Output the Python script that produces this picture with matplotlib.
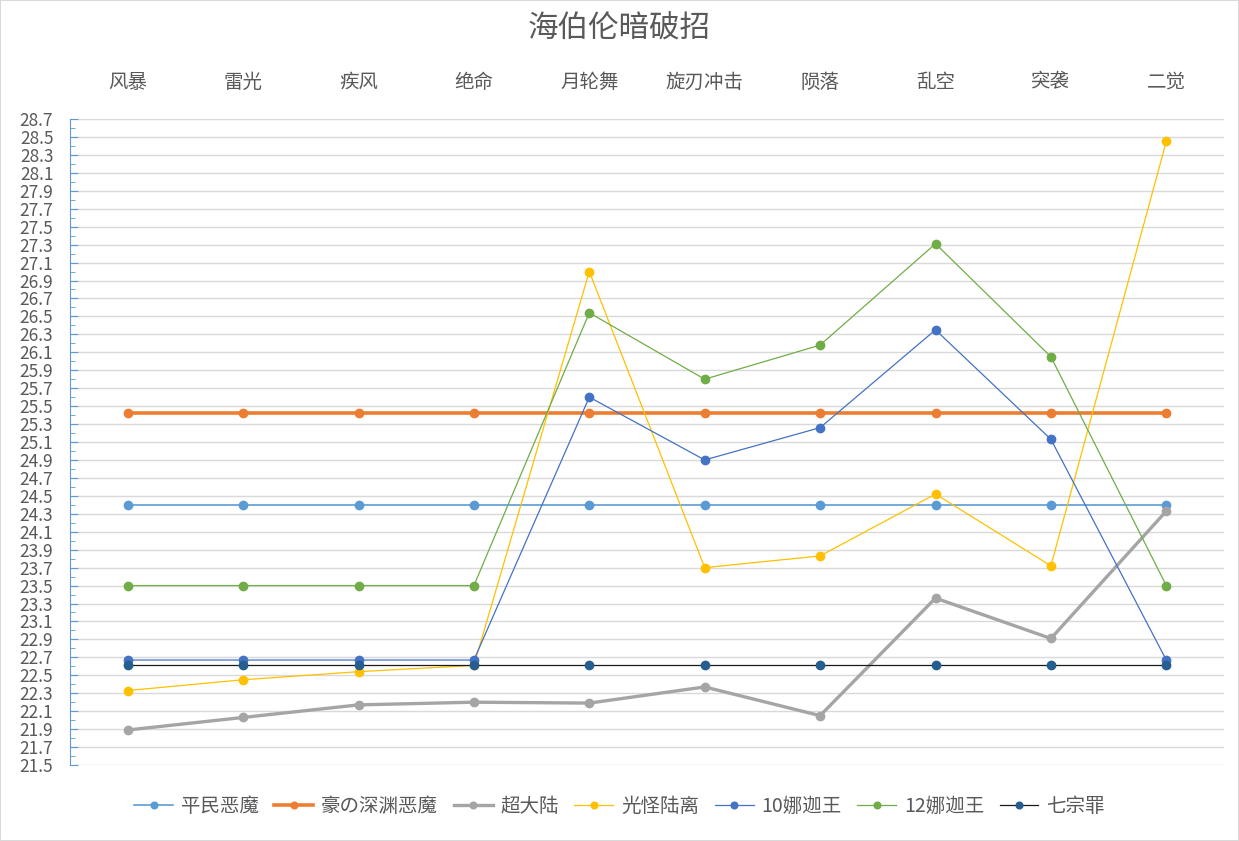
import numpy as np
import matplotlib
matplotlib.use('Agg')
import matplotlib.pyplot as plt
from matplotlib.ticker import MultipleLocator, FormatStrFormatter
from matplotlib.patches import Rectangle

plt.rcParams['font.family'] = ['Noto Sans CJK SC', 'DejaVu Sans']

title = '海伯伦暗破招'
categories = ['风暴', '雷光', '疾风', '绝命', '月轮舞', '旋刃冲击', '陨落', '乱空', '突袭', '二觉']

series_names = ['平民恶魔', '豪の深渊恶魔', '超大陆', '光怪陆离', '10娜迦王', '12娜迦王', '七宗罪']
pingmin = [24.4] * 10
hao = [25.42] * 10
chaodalu = [21.89, 22.03, 22.17, 22.20, 22.19, 22.37, 22.05, 23.36, 22.91, 24.33]
guangguai = [22.33, 22.45, 22.54, 22.61, 27.0, 23.70, 23.83, 24.52, 23.72, 28.45]
naga10 = [22.67, 22.67, 22.67, 22.67, 25.60, 24.90, 25.26, 26.35, 25.13, 22.67]
naga12 = [23.50, 23.50, 23.50, 23.50, 26.54, 25.80, 26.18, 27.31, 26.05, 23.50]
qizongzui = [22.61] * 10

all_series = [pingmin, hao, chaodalu, guangguai, naga10, naga12, qizongzui]
line_colors = ['#5B9BD5', '#ED7D31', '#A5A5A5', '#FFC000', '#4472C4', '#70AD47', '#1a1a1a']
marker_colors = ['#5B9BD5', '#ED7D31', '#A5A5A5', '#FFC000', '#4472C4', '#70AD47', '#255E91']
widths = [1.2, 2.6, 2.4, 0.9, 0.9, 0.9, 0.9]

fig = plt.figure(figsize=(12.39, 8.41), dpi=100)
ax = fig.add_axes([70 / 1239, 1 - 765 / 841, (1224 - 70) / 1239, (765 - 119) / 841])

x = np.arange(len(categories))
for name, vals, lc, mc, lw in zip(series_names, all_series, line_colors, marker_colors, widths):
    ax.plot(x, vals, color=lc, lw=lw, marker='o', ms=6, mfc=mc, mec=mc,
            label=name, zorder=3)

ax.set_xlim(-0.5, len(categories) - 0.5)
ax.set_ylim(21.5, 28.7)
ax.yaxis.set_minor_locator(MultipleLocator(0.1))
ax.yaxis.set_major_formatter(FormatStrFormatter('%.1f'))
ax.set_yticks(np.arange(21.5, 28.71, 0.2))
ax.grid(axis='y', color='#D9D9D9', lw=1)
ax.set_axisbelow(True)

ax.xaxis.tick_top()
ax.set_xticks(x)
ax.set_xticklabels(categories, fontsize=14, color='#595959')
ax.tick_params(axis='x', length=0, pad=19)
ax.tick_params(axis='y', which='major', direction='in', length=6, color='#5B9BD5',
               labelsize=12.5, labelcolor='#595959', pad=12)
ax.tick_params(axis='y', which='minor', direction='in', length=3.5, color='#5B9BD5')

for s in ['top', 'right', 'bottom']:
    ax.spines[s].set_visible(False)
ax.spines['left'].set_color('#5B9BD5')

fig.text(0.5, 1 - 29 / 841, title, ha='center', va='center', fontsize=22,
         color='#595959', fontweight='light')

leg = fig.legend(loc='center', bbox_to_anchor=(0.5, 1 - 806 / 841), ncol=7,
                 frameon=False, fontsize=14, handlelength=2.0, columnspacing=0.8,
                 handletextpad=0.4, markerscale=0.8)
for t in leg.get_texts():
    t.set_color('#595959')

fig.patches.append(Rectangle((0, 0), 1, 1, transform=fig.transFigure, fill=False,
                             edgecolor='#D9D9D9', lw=1.5))

fig.savefig('out.png', dpi=100, facecolor='white')
